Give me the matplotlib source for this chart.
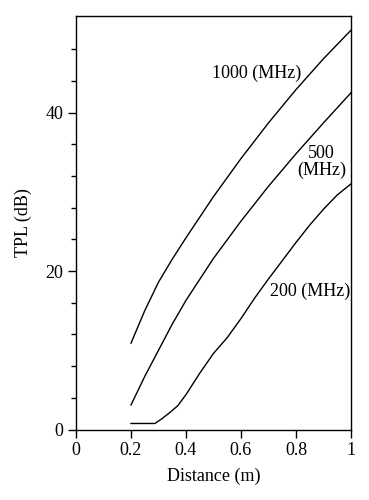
import matplotlib.pyplot as plt

plt.rcParams['font.family'] = ['Liberation Serif', 'DejaVu Serif']

# values
dist_1000 = [0.20, 0.25, 0.30, 0.35, 0.40, 0.50, 0.60, 0.70, 0.80, 0.90, 1.00]
tpl_1000 = [10.9, 15.0, 18.6, 21.5, 24.2, 29.4, 34.2, 38.7, 42.9, 46.8, 50.4]

dist_500 = [0.20, 0.25, 0.30, 0.35, 0.40, 0.50, 0.60, 0.70, 0.80, 0.90, 1.00]
tpl_500 = [3.1, 6.7, 10.0, 13.3, 16.3, 21.6, 26.3, 30.7, 34.8, 38.7, 42.5]

dist_200 = [0.20, 0.287, 0.31, 0.34, 0.37, 0.40, 0.45, 0.50, 0.55, 0.60, 0.65,
            0.70, 0.75, 0.80, 0.85, 0.90, 0.95, 1.00]
tpl_200 = [0.76, 0.76, 1.3, 2.1, 3.0, 4.4, 7.1, 9.6, 11.6, 14.0, 16.6,
           19.0, 21.3, 23.6, 25.8, 27.8, 29.6, 31.0]

x_ticks = [0, 0.2, 0.4, 0.6, 0.8, 1]
x_labels = ['0', '0.2', '0.4', '0.6', '0.8', '1']
y_ticks = [0, 20, 40]
y_minor = [4, 8, 12, 16, 24, 28, 32, 36, 44, 48]

fig = plt.figure(figsize=(3.69, 5.0), dpi=100)
ax = fig.add_axes([0.206, 0.141, 0.745, 0.827])

ax.plot(dist_1000, tpl_1000, color='black', lw=1.0)
ax.plot(dist_500, tpl_500, color='black', lw=1.0)
ax.plot(dist_200, tpl_200, color='black', lw=1.0)

ax.text(0.657, 45.0, '1000 (MHz)', ha='center', va='center', fontsize=13)
ax.text(0.893, 33.8, '500\n(MHz)', ha='center', va='center', fontsize=13, linespacing=1.0)
ax.text(0.851, 17.5, '200 (MHz)', ha='center', va='center', fontsize=13)

ax.set_xlim(0, 1)
ax.set_ylim(0, 52.2)
ax.set_xticks(x_ticks)
ax.set_xticklabels(x_labels)
ax.set_yticks(y_ticks)
ax.set_yticks(y_minor, minor=True)
ax.tick_params(which='major', direction='out', length=5.5, width=1, labelsize=13)
ax.tick_params(which='minor', direction='out', length=3.8, width=1)
for s in ax.spines.values():
    s.set_linewidth(1)

ax.set_xlabel('Distance (m)', fontsize=13, labelpad=6)
ax.set_ylabel('TPL (dB)', fontsize=13, labelpad=10)

plt.savefig('out.png', dpi=100)
